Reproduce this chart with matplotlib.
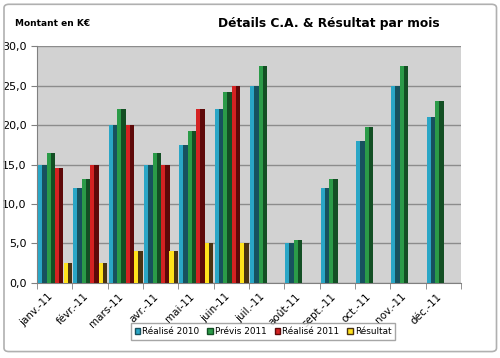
import matplotlib.pyplot as plt
from matplotlib.patches import Patch, FancyBboxPatch
from matplotlib.ticker import FuncFormatter
from matplotlib.transforms import ScaledTranslation
import numpy as np

months = ['janv.-11', 'févr.-11', 'mars-11', 'avr.-11', 'mai-11', 'juin-11',
          'juil.-11', 'août-11', 'sept.-11', 'oct.-11', 'nov.-11', 'déc.-11']
realise_2010 = [15, 12, 20, 15, 17.5, 22, 25, 5, 12, 18, 25, 21]
previs_2011 = [16.5, 13.2, 22, 16.5, 19.2, 24.2, 27.5, 5.5, 13.2, 19.8, 27.5, 23.1]
realise_2011 = [14.5, 15, 20, 15, 22, 25]
resultat = [2.5, 2.5, 4, 4, 5, 5]

series = [
    ('Réalisé 2010', realise_2010, '#2aa6c6', '#17515e'),
    ('Prévis 2011', previs_2011, '#2b9b48', '#134f24'),
    ('Réalisé 2011', realise_2011, '#d42222', '#5e0909'),
    ('Résultat', resultat, '#ffe21c', '#4a3212'),
]

fig = plt.figure(figsize=(5, 3.58), dpi=100)
fig.patch.set_facecolor('white')

# outer frame like the excel chart area
frame = FancyBboxPatch((0.008, 0.018), 0.985, 0.97, boxstyle='round,pad=0,rounding_size=0.01',
                       transform=fig.transFigure, fill=False, edgecolor='#b0b0b0', linewidth=1.2)
fig.patches.append(frame)

ax = fig.add_axes([0.074, 0.2095, 0.848, 0.662])
ax.set_facecolor('#d2d2d2')

bw = 0.24
start = 0.03
for k, (name, vals, front, side) in enumerate(series):
    x = np.arange(len(vals)) + start + k * bw
    # front face then darker side face to fake the 3D look
    ax.bar(x, vals, width=bw * 0.48, align='edge', color=front, linewidth=0, zorder=3)
    ax.bar(x + bw * 0.48, vals, width=bw * 0.52, align='edge', color=side, linewidth=0, zorder=3)

ax.set_xlim(0, 12)
ax.set_ylim(0, 30)
ax.set_yticks(np.arange(0, 31, 5))
ax.yaxis.set_major_formatter(FuncFormatter(lambda v, p: f'{v:.1f}'.replace('.', ',')))
ax.grid(axis='y', color='#8c8c8c', linewidth=1, zorder=1)

ax.set_xticks(np.arange(12) + 0.5)
ax.set_xticklabels(months, rotation=45, ha='right', fontsize=7.5)
shift = ScaledTranslation(4 / 100, 0, fig.dpi_scale_trans)
for lab in ax.get_xticklabels():
    lab.set_transform(lab.get_transform() + shift)
ax.set_xticks(np.arange(13), minor=True)
ax.tick_params(axis='x', which='major', length=0, pad=6)
ax.tick_params(axis='x', which='minor', length=4, color='#808080')
ax.tick_params(axis='y', length=4, color='#808080', labelsize=8)

for s in ['top', 'right']:
    ax.spines[s].set_visible(False)
for s in ['left', 'bottom']:
    ax.spines[s].set_color('#808080')

fig.text(0.03, 0.935, 'Montant en K€', fontsize=6.5, fontweight='bold', va='center')
fig.text(0.658, 0.935, 'Détails C.A. & Résultat par mois', fontsize=8.8, fontweight='bold',
         ha='center', va='center')

handles = [Patch(facecolor=f, edgecolor=s) for _, _, f, s in series]
labels = [n for n, _, _, _ in series]
fig.legend(handles, labels, loc='center', bbox_to_anchor=(0.526, 0.073), ncol=4, fontsize=6.4,
           handlelength=0.6, handleheight=0.6, handletextpad=0.25, columnspacing=0.9,
           frameon=True, fancybox=False, edgecolor='#909090', borderpad=0.45)

fig.savefig('out.png', dpi=100)
